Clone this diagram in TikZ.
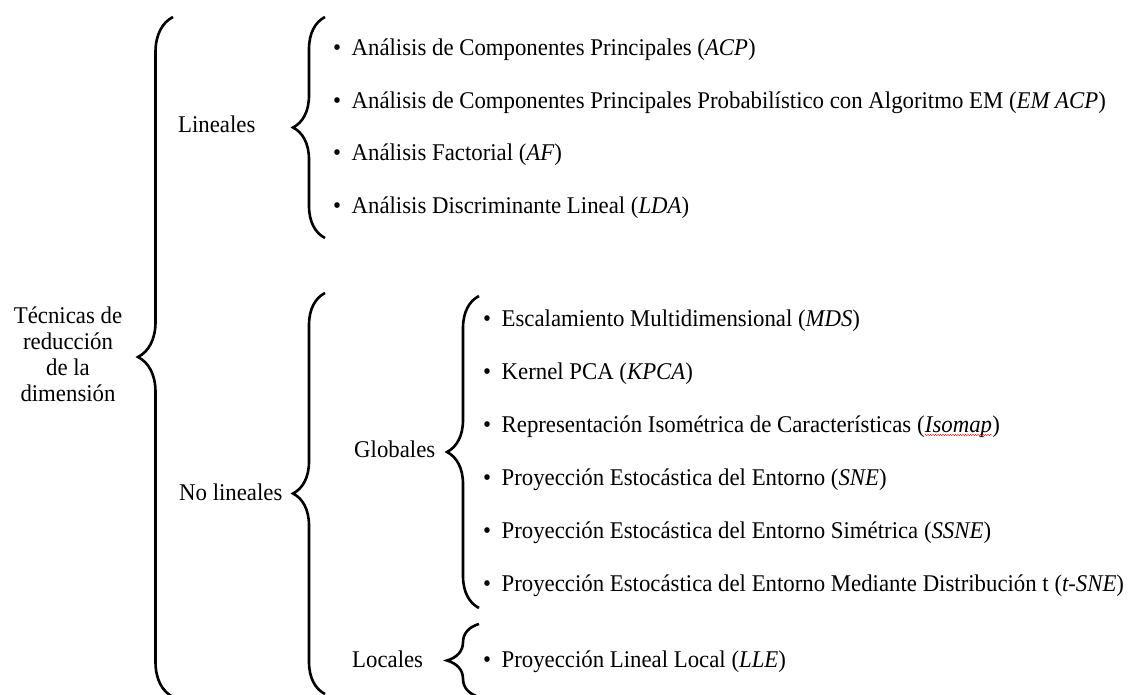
\documentclass[tikz,border=0pt]{standalone}
\usepackage{fontspec}
\setmainfont{Liberation Serif}[FakeStretch=0.95]
\usetikzlibrary{decorations.pathreplacing,decorations.pathmorphing}
\newcommand{\punto}{\textbullet\hspace{10.5pt}}

\begin{document}
\begin{tikzpicture}[x=1pt, y=-1pt,
  every node/.style={font=\fontsize{24}{26}\selectfont, inner sep=0pt},
  llave/.style={decorate, decoration={brace, amplitude=32pt}, line width=2.6pt},
  item/.style={anchor=base west}]
  \useasboundingbox (0,0) rectangle (1141,695);

  % Raiz y ramas
  \node[align=center] (tec) at (68,354) {Técnicas de\\reducción\\de la\\dimensión};
  \node[item] (lin) at (178,133) {Lineales};
  \node[item] (nolin) at (179,500) {No lineales};
  \node[item] (glob) at (354,457) {Globales};
  \node[item] (loc) at (352,667) {Locales};

  % Llaves
  \coordinate (t0) at (173,17);   \coordinate (b0) at (173,697);
  \coordinate (t1) at (325,17);   \coordinate (b1) at (325,238);
  \coordinate (t2) at (325,293);  \coordinate (b2) at (325,694);
  \coordinate (t3) at (479,296);  \coordinate (b3) at (479,608);
  \coordinate (t4) at (479,624);  \coordinate (b4) at (479,697);
  \draw[llave, decoration={amplitude=35pt}] (b0) -- (t0);
  \draw[llave] (b1) -- (t1);
  \draw[llave] (b2) -- (t2);
  \draw[llave] (b3) -- (t3);
  \draw[llave] (b4) -- (t4);

  % Tecnicas lineales
  \node[item] (l1) at (333,56) {\punto Análisis de Componentes Principales (\textit{ACP})};
  \node[item] (l2) at (333,109) {\punto Análisis de Componentes Principales Probabilístico con Algoritmo EM (\textit{EM ACP})};
  \node[item] (l3) at (333,161) {\punto Análisis Factorial (\textit{AF})};
  \node[item] (l4) at (333,214) {\punto Análisis Discriminante Lineal (\textit{LDA})};

  % Tecnicas no lineales globales
  \node[item] (g1) at (483,326) {\punto Escalamiento Multidimensional (\textit{MDS})};
  \node[item] (g2) at (483,379) {\punto Kernel PCA (\textit{KPCA})};
  \node[item] (g3) at (483,432) {\punto Representación Isométrica de Características (};
  \node[item] (iso) at (g3.base east) {\textit{Isomap}};
  \node[item] (g3b) at (iso.base east) {)};
  \draw[red, decorate, decoration={snake, amplitude=0.7pt, segment length=2.5pt}]
    ([yshift=-3pt]iso.base west) -- ([yshift=-3pt]iso.base east);
  \node[item] (g4) at (483,485) {\punto Proyección Estocástica del Entorno (\textit{SNE})};
  \node[item] (g5) at (483,538) {\punto Proyección Estocástica del Entorno Simétrica (\textit{SSNE})};
  \node[item] (g6) at (483,591) {\punto Proyección Estocástica del Entorno Mediante Distribución t (\textit{t-SNE})};

  % Tecnicas no lineales locales
  \node[item] (lo1) at (483,667) {\punto Proyección Lineal Local (\textit{LLE})};
\end{tikzpicture}
\end{document}
